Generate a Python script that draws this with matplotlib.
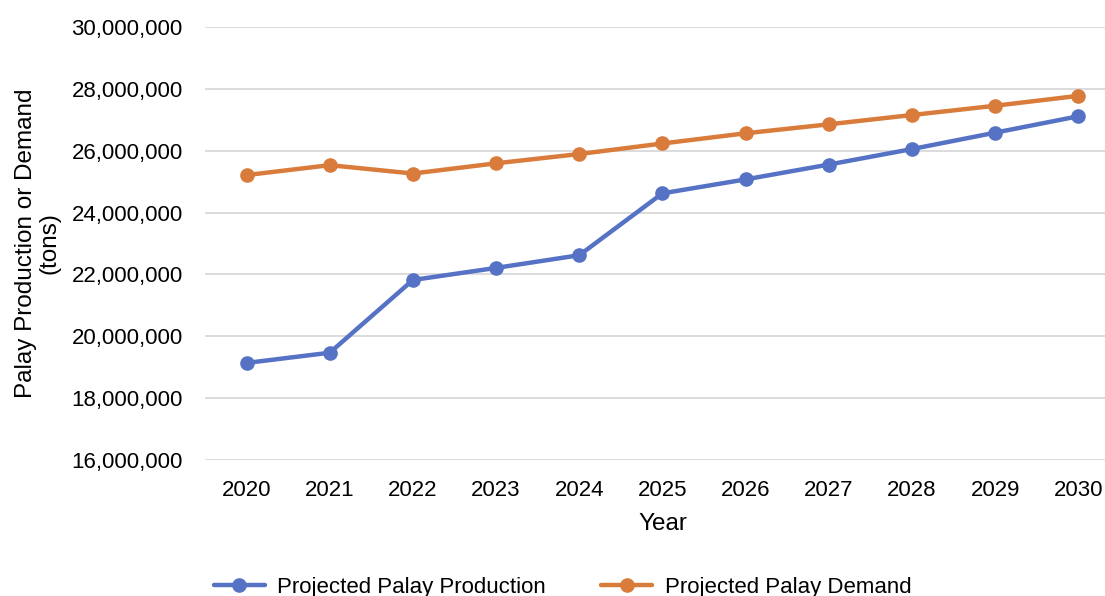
#!/usr/bin/env python3

import matplotlib
matplotlib.use("Agg")
import matplotlib.pyplot as plt
import matplotlib.ticker as mticker

years = [2020, 2021, 2022, 2023, 2024, 2025, 2026, 2027, 2028, 2029, 2030]
production = [19.14e6, 19.47e6, 21.82e6, 22.21e6, 22.62e6, 24.62e6,
              25.07e6, 25.55e6, 26.05e6, 26.58e6, 27.11e6]
demand = [25.21e6, 25.53e6, 25.26e6, 25.59e6, 25.89e6, 26.23e6,
          26.56e6, 26.85e6, 27.15e6, 27.45e6, 27.77e6]

BLUE = "#5572C5"
ORANGE = "#D97C3B"

plt.rcParams["font.family"] = ["Liberation Sans", "DejaVu Sans"]
plt.rcParams["font.size"] = 16

fig = plt.figure(figsize=(11.05, 5.96), dpi=100)
# plot area runs a little past the right edge of the figure
ax = fig.add_axes([0.1855, 0.228, 0.828, 0.727])

x = list(range(len(years)))
ax.plot(x, production, color=BLUE, lw=3.2, marker="o", ms=9.5,
        label="Projected Palay Production", solid_capstyle="round")
ax.plot(x, demand, color=ORANGE, lw=3.2, marker="o", ms=9.5,
        label="Projected Palay Demand", solid_capstyle="round")

ax.set_xlim(-0.5, len(years) - 0.5)
ax.set_ylim(16e6, 30e6)
ax.set_yticks(range(16000000, 30000001, 2000000))
ax.yaxis.set_major_formatter(mticker.StrMethodFormatter("{x:,.0f}"))
ax.set_xticks(x)
ax.set_xticklabels([str(y) for y in years])

ax.grid(axis="y", color="#D9D9D9", lw=1.3)
ax.set_axisbelow(True)
for s in ax.spines.values():
    s.set_visible(False)
ax.tick_params(length=0, colors="black", labelsize=16)
ax.tick_params(axis="y", pad=16)
ax.tick_params(axis="x", pad=14)

ax.set_xlabel("Year", fontsize=17.5, labelpad=9)
ax.set_ylabel("Palay Production or Demand\n(tons)", fontsize=17.5, labelpad=8,
              linespacing=1.05)

fig.legend(loc="center", bbox_to_anchor=(0.509, 0.015), ncol=2, frameon=False,
           handlelength=2.3, columnspacing=2.5, fontsize=16, handletextpad=0.55)

fig.savefig("out.png", dpi=100)
